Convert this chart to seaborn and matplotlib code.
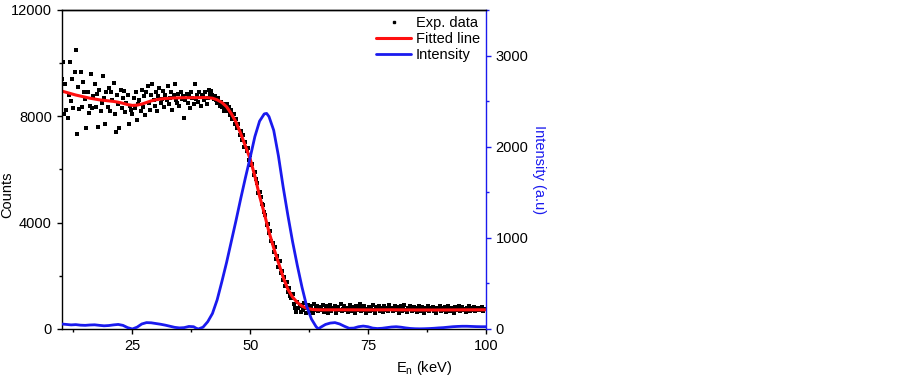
import numpy as np
import pandas as pd
import seaborn as sns
import matplotlib.pyplot as plt
from matplotlib.lines import Line2D
from matplotlib.ticker import MultipleLocator

# experimental points, 0.25 keV grid from 10 keV, one row = 5 keV
exp_x = np.arange(10, 100, 0.25)
exp_counts = (
    [9400, 10050, 8100, 9200, 8250, 7950, 8800, 10050, 8580, 9400, 8300, 9650, 10500, 7340, 9120, 8290, 9680, 8340, 9300, 8930]
    + [8640, 7550, 8930, 8120, 8400, 9600, 8300, 8760, 9200, 8350, 8850, 7600, 9000, 8200, 8500, 9500, 8700, 7700, 8900, 8350]
    + [9050, 8200, 8900, 8600, 9250, 8100, 7420, 8800, 8450, 7550, 9000, 8300, 8700, 8950, 8150, 8500, 8800, 7700, 8400, 8250]
    + [8100, 8700, 8300, 8900, 7850, 8450, 8600, 8200, 9000, 8350, 8750, 8050, 8900, 9150, 8500, 8250, 8800, 9200, 8600, 8400]
    + [8900, 8200, 8750, 9050, 8500, 8650, 8950, 8350, 8800, 8600, 9150, 8450, 8700, 8900, 8250, 8800, 9200, 8600, 8500, 8850]
    + [8400, 8900, 8650, 8750, 7950, 8600, 8850, 8500, 8800, 8300, 8900, 8700, 8450, 9200, 8650, 8800, 8550, 8900, 8400, 8750]
    + [8800, 8600, 8900, 8450, 8700, 9000, 8850, 8950, 8800, 8650, 8750, 8600, 8500, 8700, 8400, 8550, 8350, 8450, 8200, 8300]
    + [8450, 8200, 8350, 8050, 8250, 7900, 8100, 7700, 7900, 7550, 7700, 7300, 7450, 7100, 7300, 6850, 7050, 6700, 6800, 6350]
    + [6550, 6150, 6200, 5800, 5900, 5650, 5500, 5100, 5150, 4950, 4700, 4650, 4400, 4300, 3900, 3950, 3600, 3700, 3300, 3250]
    + [2900, 3100, 2650, 2750, 2350, 2550, 2100, 2200, 1850, 1950, 1600, 1750, 1400, 1550, 1250, 1150, 1300, 950, 800, 650]
    + [1000, 780, 920, 650, 850, 720, 980, 600, 800, 900, 680, 760, 850, 620, 950, 700, 800, 880, 660, 750]
    + [820, 700, 900, 650, 780, 860, 620, 750, 920, 680, 800, 740, 870, 610, 780, 840, 700, 950, 660, 760]
    + [880, 700, 800, 640, 760, 900, 680, 820, 740, 600, 850, 720, 780, 940, 660, 800, 700, 860, 620, 770]
    + [720, 840, 660, 780, 900, 700, 620, 820, 760, 880, 680, 740, 800, 640, 860, 720, 780, 690, 910, 750]
    + [800, 660, 760, 880, 700, 820, 620, 740, 860, 680, 780, 900, 720, 640, 800, 760, 850, 680, 740, 820]
    + [700, 780, 640, 860, 740, 680, 820, 760, 600, 800, 720, 880, 660, 780, 740, 840, 690, 760, 620, 800]
    + [740, 860, 680, 780, 700, 820, 640, 760, 880, 720, 660, 800, 750, 620, 840, 700, 780, 860, 690, 760]
    + [820, 700, 760, 640, 800, 740, 860, 680, 780, 720, 840, 660, 760, 800, 700, 780, 740, 820, 690, 760]
)

# fitted curve
fit_x = [10, 11, 12, 13, 14, 15, 16, 17, 18, 19, 20, 21, 22, 23, 24, 25, 26, 27, 28, 29,
         30, 31, 32, 33, 34, 35, 36, 37, 38, 39, 40, 41, 42, 43, 44, 45, 46, 47, 48, 49,
         50, 51, 52, 53, 54, 55, 56, 57, 58, 59, 60, 61, 62, 63, 64, 65, 70, 75, 80, 85, 90, 95, 100]
fit_y = [8950, 8900, 8850, 8800, 8760, 8720, 8680, 8650, 8620, 8600, 8580, 8560, 8530, 8490, 8440, 8410, 8420, 8460, 8520, 8580,
         8620, 8650, 8670, 8680, 8690, 8695, 8700, 8700, 8700, 8700, 8705, 8700, 8680, 8620, 8520, 8360, 8100, 7780, 7350, 6880,
         6400, 5750, 5000, 4350, 3650, 3050, 2500, 1950, 1500, 1200, 1000, 860, 780, 740, 725, 720, 722, 718, 722, 716, 714, 720, 722]

# intensity (right axis)
int_x = [10, 11, 12, 13, 14, 15, 16, 17, 18, 19, 20, 21, 22, 23, 24, 25, 26, 27, 28, 29,
         30, 31, 32, 33, 34, 35, 36, 37, 38, 38.5, 39, 40, 41, 42, 43, 44, 45, 46, 47, 48,
         49, 50, 51, 52, 53, 53.5, 54, 55, 56, 57, 58, 59, 60, 61, 62, 63, 64, 64.5,
         65, 66, 67, 68, 69, 70, 71, 72, 73, 74, 75, 76, 77, 78, 79, 80, 81, 82, 83, 84,
         85, 86, 87, 88, 89, 90, 91, 92, 93, 94, 95, 96, 97, 98, 99, 100]
int_y = [55, 50, 45, 48, 42, 40, 44, 46, 40, 35, 38, 45, 50, 40, 15, 0, 20, 55, 70, 68,
         60, 52, 42, 30, 18, 12, 15, 28, 25, 10, 0, 20, 80, 170, 320, 520, 730, 960, 1190, 1430,
         1660, 1880, 2110, 2280, 2360, 2365, 2330, 2180, 1900, 1560, 1250, 960, 700, 460, 250, 110, 25, 0,
         20, 50, 65, 70, 55, 30, 8, 10, 25, 32, 25, 10, 5, 8, 15, 22, 25, 20, 12, 6,
         3, 2, 3, 5, 8, 12, 15, 20, 25, 28, 30, 30, 28, 26, 25, 25]

sns.set_style("ticks")
plt.rcParams['font.family'] = ['Liberation Sans', 'DejaVu Sans']
plt.rcParams['font.size'] = 10.5
for k in ['text.color', 'axes.labelcolor', 'xtick.color', 'ytick.color', 'axes.edgecolor']:
    plt.rcParams[k] = 'black'

fig = plt.figure(figsize=(8.99, 3.83), dpi=100)
ax = fig.add_axes([0.0686, 0.141, 0.4717, 0.833])
ax2 = ax.twinx()

sns.scatterplot(x=exp_x, y=exp_counts, marker='s', s=5, color='black', linewidth=0, ax=ax, legend=False)
sns.lineplot(x=fit_x, y=fit_y, color='#ff1010', lw=2.2, ax=ax)
sns.lineplot(x=int_x, y=int_y, color='#1a1aee', lw=2, ax=ax2)

ax.set_xlim(10, 100)
ax.set_ylim(0, 12000)
ax2.set_ylim(0, 3500)

ax.xaxis.set_major_locator(MultipleLocator(25))
ax.xaxis.set_minor_locator(MultipleLocator(12.5))
ax.yaxis.set_major_locator(MultipleLocator(4000))
ax.yaxis.set_minor_locator(MultipleLocator(2000))
ax2.yaxis.set_major_locator(MultipleLocator(1000))
ax2.yaxis.set_minor_locator(MultipleLocator(500))

for a in (ax, ax2):
    a.tick_params(which='major', direction='out', length=3.5, width=1, labelsize=10.5)
    a.tick_params(which='minor', direction='out', length=2, width=1)
    for s in a.spines.values():
        s.set_linewidth(1)

ax.spines['right'].set_visible(False)
ax2.spines['left'].set_visible(False)
ax2.spines['bottom'].set_visible(False)
ax2.spines['top'].set_visible(True)
ax2.spines['right'].set_color('#1a1aee')
ax2.tick_params(axis='y', which='both', colors='#1a1aee', labelcolor='black')

ax.set_xlabel('E$_\\mathregular{n}$ (keV)', fontsize=10.5)
ax.xaxis.set_label_coords(0.855, -0.095)
ax.set_ylabel('Counts', fontsize=10.5)
ax.yaxis.set_label_coords(-0.112, 0.42)
ax2.set_ylabel('Intensity (a.u)', color='#1a1aee', rotation=270, fontsize=10.5)
ax2.yaxis.set_label_coords(1.142, 0.5)

handles = [
    Line2D([], [], ls='none', marker='s', ms=2, color='black'),
    Line2D([], [], color='#ff1010', lw=2.2),
    Line2D([], [], color='#1a1aee', lw=2),
]
ax2.legend(handles, ['Exp. data', 'Fitted line', 'Intensity'], loc='upper right', frameon=False,
           fontsize=10.5, handlelength=2.4, handletextpad=0.3, labelspacing=0.15, borderaxespad=0.0)

fig.savefig('out.png', dpi=100)
